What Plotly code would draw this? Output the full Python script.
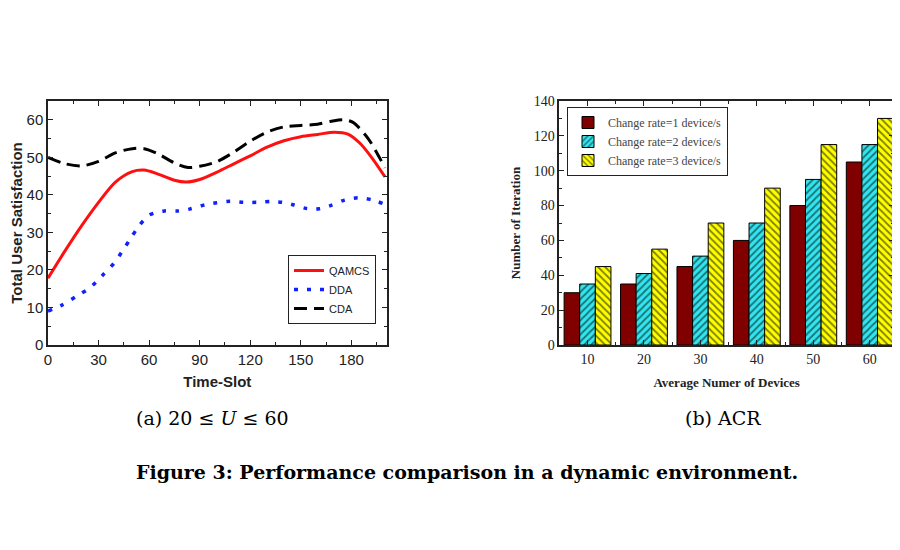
import plotly.graph_objects as go

# ---- Left chart data (Time-Slot vs Total User Satisfaction) ----
time_slot = [0, 10, 20, 30, 40, 50, 57, 65, 75, 82, 90, 100, 110, 120, 130, 140, 150, 160, 170, 178, 185, 192, 200]
qamcs = [17.8, 25.0, 31.8, 38.0, 43.4, 46.2, 46.6, 45.6, 43.9, 43.4, 44.1, 46.0, 48.2, 50.4, 52.7, 54.4, 55.5, 56.1, 56.7, 56.2, 53.8, 50.0, 44.8]

dda_x = [0, 9, 17, 25, 32, 39, 44, 49, 54, 60, 69, 77, 84, 91, 100, 108, 116, 124, 132, 139, 146, 153, 161, 168, 176, 184, 192, 200]
dda = [9.0, 10.8, 13.0, 15.3, 18.4, 21.7, 24.9, 28.4, 31.7, 34.6, 35.7, 35.7, 36.2, 37.1, 37.9, 38.3, 38.0, 38.0, 38.2, 38.0, 37.3, 36.4, 36.3, 37.2, 38.6, 39.2, 38.7, 37.5]

cda_x = [0, 10, 20, 30, 40, 50, 57, 65, 75, 83, 90, 100, 110, 120, 130, 140, 150, 160, 168, 175, 181, 190, 200]
cda = [50.0, 48.3, 47.7, 48.9, 51.2, 52.3, 52.3, 51.0, 48.5, 47.3, 47.6, 48.8, 51.3, 54.3, 56.7, 58.1, 58.5, 58.8, 59.6, 60.0, 59.3, 55.0, 47.2]

# ---- Right chart data (Average number of devices vs Number of iteration) ----
devices = [10, 20, 30, 40, 50, 60]
rate1 = [30, 35, 45, 60, 80, 105]
rate2 = [35, 41, 51, 70, 95, 115]
rate3 = [45, 55, 70, 90, 115, 130]

# The page body has an 8px default margin, so the figure is sized to fit the window.
PAGE_W, PAGE_H, OFF = 900, 550, 8
W, H = PAGE_W - OFF, PAGE_H - OFF
L, R, T, B = 48, 894, 101, 345   # plot-area box in page pixels
def px(x):
    return (x - L) / (R - L)
def py(y):
    return (B - y) / (B - T)

fig = go.Figure()

sans = "Liberation Sans, Arial, sans-serif"
serif = "Liberation Serif, Times New Roman, serif"

fig.add_trace(go.Scatter(x=time_slot, y=qamcs, mode="lines", name="QAMCS",
                         line=dict(color="#ff1010", width=3, shape="spline", smoothing=0.8),
                         xaxis="x", yaxis="y", legend="legend"))
fig.add_trace(go.Scatter(x=dda_x, y=dda, mode="lines", name="DDA",
                         line=dict(color="#1020ff", width=3.5, dash="4px,9px", shape="spline", smoothing=0.8),
                         xaxis="x", yaxis="y", legend="legend"))
fig.add_trace(go.Scatter(x=cda_x, y=cda, mode="lines", name="CDA",
                         line=dict(color="#000000", width=3, dash="13px,7px", shape="spline", smoothing=0.8),
                         xaxis="x", yaxis="y", legend="legend"))

fig.add_trace(go.Bar(x=devices, y=rate1, name="Change rate=1 device/s",
                     marker=dict(color="#800000", line=dict(color="black", width=1)),
                     xaxis="x2", yaxis="y2", legend="legend2"))
fig.add_trace(go.Bar(x=devices, y=rate2, name="Change rate=2 device/s",
                     marker=dict(color="#33e5ee", line=dict(color="black", width=1),
                                 pattern=dict(shape="/", fgcolor="black", bgcolor="#33e5ee", size=5, solidity=0.35)),
                     xaxis="x2", yaxis="y2", legend="legend2"))
fig.add_trace(go.Bar(x=devices, y=rate3, name="Change rate=3 device/s",
                     marker=dict(color="#ffff00", line=dict(color="black", width=1),
                                 pattern=dict(shape="\\", fgcolor="black", bgcolor="#ffff00", size=5, solidity=0.35)),
                     xaxis="x2", yaxis="y2", legend="legend2"))

common_axis = dict(showline=True, linecolor="#222", linewidth=1.5, mirror="ticks",
                   ticks="inside", ticklen=5, tickcolor="#222", showgrid=False, zeroline=False,
                   automargin=False)

fig.update_layout(
    width=W, height=H,
    margin=dict(l=L - OFF, r=PAGE_W - R, t=T - OFF, b=PAGE_H - B),
    paper_bgcolor="white", plot_bgcolor="white",
    showlegend=True,
    barmode="group", bargap=0.17, bargroupgap=0,
    xaxis=dict(domain=[0, px(386.7)], range=[0, 201], tickvals=[0, 30, 60, 90, 120, 150, 180],
               minor=dict(dtick=15, tick0=0, ticks="inside", ticklen=3, tickcolor="#222"),
               tickfont=dict(family=sans, size=15, color="#222"),
               title=dict(text="<b>Time-Slot</b>", font=dict(family=sans, size=15, color="#222"), standoff=10),
               anchor="y", **common_axis),
    yaxis=dict(domain=[0, 1], range=[0, 65], tickvals=[0, 10, 20, 30, 40, 50, 60],
               minor=dict(dtick=5, tick0=0, ticks="inside", ticklen=3, tickcolor="#222"),
               tickfont=dict(family=sans, size=15, color="#222"),
               title=dict(text="<b>Total User Satisfaction</b>", font=dict(family=sans, size=15, color="#222"), standoff=6),
               anchor="x", **common_axis),
    xaxis2=dict(domain=[px(559.3), 1], range=[5, 64.3], tickvals=devices,
                minor=dict(dtick=5, tick0=0, ticks="inside", ticklen=3, tickcolor="#222"),
                tickfont=dict(family=serif, size=14, color="#222"),
                title=dict(text="<b>Average Numer of Devices</b>", font=dict(family=serif, size=13, color="#222"), standoff=12),
                anchor="y2", **common_axis),
    yaxis2=dict(domain=[0, 1], range=[0, 140], tickvals=[0, 20, 40, 60, 80, 100, 120, 140],
                minor=dict(dtick=10, tick0=0, ticks="inside", ticklen=3, tickcolor="#222"),
                tickfont=dict(family=serif, size=14, color="#222"),
                title=dict(text="<b>Number of Iteration</b>", font=dict(family=serif, size=13, color="#222"), standoff=10),
                anchor="x2", **common_axis),
    legend=dict(x=px(376), y=py(324), xanchor="right", yanchor="bottom",
                bgcolor="white", bordercolor="#222", borderwidth=1,
                font=dict(family=sans, size=11, color="#222"), itemwidth=30,
                tracegroupgap=0),
    legend2=dict(x=px(567), y=py(107), xanchor="left", yanchor="top",
                 bgcolor="white", bordercolor="#222", borderwidth=1,
                 font=dict(family=serif, size=12, color="#444"), tracegroupgap=0),
)

fig.add_annotation(x=px(212), y=py(418), xref="paper", yref="paper", showarrow=False,
                   xanchor="center", yanchor="middle",
                   text="(a) 20 ≤ <i>U</i> ≤ 60", font=dict(family="DejaVu Serif, serif", size=19, color="black"))
fig.add_annotation(x=px(723), y=py(418), xref="paper", yref="paper", showarrow=False,
                   xanchor="center", yanchor="middle",
                   text="(b) ACR", font=dict(family="DejaVu Serif, serif", size=19, color="black"))
fig.add_annotation(x=px(467), y=py(472), xref="paper", yref="paper", showarrow=False,
                   xanchor="center", yanchor="middle",
                   text="<b>Figure 3: Performance comparison in a dynamic environment.</b>",
                   font=dict(family="DejaVu Serif, serif", size=19, color="black"))

fig.write_html("out.html")
